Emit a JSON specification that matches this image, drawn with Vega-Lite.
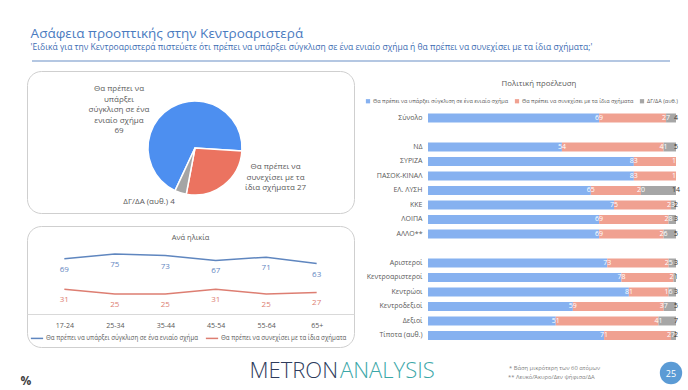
{
  "$schema": "https://vega.github.io/schema/vega-lite/v6.json",
  "background": "white",
  "padding": {"left": 20, "top": 27, "right": 0, "bottom": 0},
  "config": {"view": {"stroke": null}, "font": "Open Sans"},
  "title": {
    "text": "Ασάφεια προοπτικής στην Κεντροαριστερά",
    "subtitle": "'Ειδικά για την Κεντροαριστερά πιστεύετε ότι πρέπει να υπάρξει σύγκλιση σε ένα ενιαίο σχήμα ή θα πρέπει να συνεχίσει με τα ίδια σχήματα;'",
    "anchor": "start", "dx": 10, "font": "Open Sans", "fontSize": 13.5, "fontWeight": 400, "color": "#4a7bbf",
    "subtitleFont": "Open Sans", "subtitleFontSize": 8.5, "subtitleColor": "#3d6db3", "subtitlePadding": 2, "offset": 6
  },
  "spacing": 8,
  "resolve": {"scale": {"color": "independent", "x": "independent", "y": "independent"}},
  "vconcat": [
    {
      "width": 643, "height": 5,
      "data": {"values": [{}]},
      "mark": {"type": "rule", "color": "#b4c7e2", "strokeWidth": 2},
      "encoding": {"x": {"value": 5}, "x2": {"value": "width"}, "y": {"value": 4}}
    },
    {
      "spacing": 10,
      "resolve": {"scale": {"color": "independent"}, "legend": {"color": "independent"}},
      "hconcat": [
        {
          "spacing": 11,
          "resolve": {"scale": {"color": "independent"}},
          "vconcat": [
            {
              "width": 327, "height": 142,
              "view": {"stroke": "#cfcfcf", "cornerRadius": 14, "strokeWidth": 1},
              "data": {"values": [
                {"answer": "Θα πρέπει να υπάρξει σύγκλιση σε ένα ενιαίο σχήμα", "value": 69, "label": "Θα πρέπει να\nυπάρξει\nσύγκλιση σε ένα\nενιαίο σχήμα\n69"},
                {"answer": "Θα πρέπει να συνεχίσει με τα ίδια σχήματα", "value": 27, "label": "Θα πρέπει να\nσυνεχίσει με τα\nίδια σχήματα 27"},
                {"answer": "ΔΓ/ΔΑ (αυθ.)", "value": 4, "label": "ΔΓ/ΔΑ (αυθ.) 4"}
              ]},
              "layer": [
                {
                  "mark": {"type": "arc", "outerRadius": 47, "stroke": "white", "strokeWidth": 1.5, "xOffset": 4.5, "yOffset": 6},
                  "encoding": {
                    "theta": {"field": "value", "type": "quantitative", "stack": true, "scale": {"range": [3.58, 9.863]}},
                    "color": {"field": "answer", "type": "nominal", "legend": null,
                      "scale": {"domain": ["Θα πρέπει να υπάρξει σύγκλιση σε ένα ενιαίο σχήμα", "Θα πρέπει να συνεχίσει με τα ίδια σχήματα", "ΔΓ/ΔΑ (αυθ.)"], "range": ["#4d8ff0", "#eb7360", "#a5a5a5"]}},
                    "order": {"field": "value", "sort": "descending"}
                  }
                },
                {
                  "transform": [{"filter": "datum.value == 69"}],
                  "mark": {"type": "text", "dx": -71.5, "dy": -53, "lineBreak": "\n", "lineHeight": 10.5, "fontSize": 8, "color": "#595959"},
                  "encoding": {"text": {"field": "label"}}
                },
                {
                  "transform": [{"filter": "datum.value == 27"}],
                  "mark": {"type": "text", "dx": 85, "dy": 25, "lineBreak": "\n", "lineHeight": 10.5, "fontSize": 8, "color": "#595959"},
                  "encoding": {"text": {"field": "label"}}
                },
                {
                  "transform": [{"filter": "datum.value == 4"}],
                  "mark": {"type": "text", "dx": -41.5, "dy": 60, "fontSize": 8, "color": "#595959"},
                  "encoding": {"text": {"field": "label"}}
                }
              ]
            },
            {
              "width": 327, "height": 121,
              "view": {"stroke": "#cfcfcf", "cornerRadius": 14, "strokeWidth": 1},
              "title": {"text": "Ανά ηλικία", "fontSize": 7.5, "fontWeight": "normal", "color": "#595959", "offset": -15},
              "data": {"values": [
                {"age": "17-24", "series": "Θα πρέπει να υπάρξει σύγκλιση σε ένα ενιαίο σχήμα", "value": 69},
                {"age": "25-34", "series": "Θα πρέπει να υπάρξει σύγκλιση σε ένα ενιαίο σχήμα", "value": 75},
                {"age": "35-44", "series": "Θα πρέπει να υπάρξει σύγκλιση σε ένα ενιαίο σχήμα", "value": 73},
                {"age": "45-54", "series": "Θα πρέπει να υπάρξει σύγκλιση σε ένα ενιαίο σχήμα", "value": 67},
                {"age": "55-64", "series": "Θα πρέπει να υπάρξει σύγκλιση σε ένα ενιαίο σχήμα", "value": 71},
                {"age": "65+", "series": "Θα πρέπει να υπάρξει σύγκλιση σε ένα ενιαίο σχήμα", "value": 63},
                {"age": "17-24", "series": "Θα πρέπει να συνεχίσει με τα ίδια σχήματα", "value": 31},
                {"age": "25-34", "series": "Θα πρέπει να συνεχίσει με τα ίδια σχήματα", "value": 25},
                {"age": "35-44", "series": "Θα πρέπει να συνεχίσει με τα ίδια σχήματα", "value": 25},
                {"age": "45-54", "series": "Θα πρέπει να συνεχίσει με τα ίδια σχήματα", "value": 31},
                {"age": "55-64", "series": "Θα πρέπει να συνεχίσει με τα ίδια σχήματα", "value": 25},
                {"age": "65+", "series": "Θα πρέπει να συνεχίσει με τα ίδια σχήματα", "value": 27}
              ]},
              "encoding": {
                "x": {"field": "age", "type": "ordinal", "sort": null, "scale": {"type": "point", "padding": 0.74},
                  "axis": {"title": null, "labelFontSize": 7, "labelColor": "#595959", "ticks": false, "domainColor": "#d9d9d9", "offset": -33, "labelPadding": 7, "labelAngle": 0}},
                "y": {"field": "value", "type": "quantitative", "scale": {"domain": [-41.25, 110], "nice": false, "zero": false}, "axis": null},
                "color": {"field": "series", "type": "nominal",
                  "scale": {"domain": ["Θα πρέπει να υπάρξει σύγκλιση σε ένα ενιαίο σχήμα", "Θα πρέπει να συνεχίσει με τα ίδια σχήματα"], "range": ["#5f86bf", "#dd7e72"]},
                  "legend": {"orient": "none", "legendX": 3, "legendY": 105, "direction": "horizontal", "title": null, "symbolType": "stroke", "symbolSize": 150, "symbolStrokeWidth": 1.5, "labelFontSize": 6.2, "labelColor": "#595959", "columnPadding": 4, "labelOffset": 2, "labelLimit": 300}}
              },
              "layer": [
                {"mark": {"type": "line", "strokeWidth": 1.5}},
                {"mark": {"type": "text", "dy": 11, "fontSize": 8}, "encoding": {"text": {"field": "value"}}}
              ]
            }
          ]
        },
        {
          "width": 248, "height": 271.75,
          "title": {"text": "Πολιτική προέλευση", "fontSize": 7.8, "fontWeight": "normal", "color": "#595959", "offset": -16.5, "dx": -13},
          "data": {"values": [
            {"group": "Σύνολο", "option": "Θα πρέπει να υπάρξει σύγκλιση σε ένα ενιαίο σχήμα", "value": 69},
            {"group": "Σύνολο", "option": "Θα πρέπει να συνεχίσει με τα ίδια σχήματα", "value": 27},
            {"group": "Σύνολο", "option": "ΔΓ/ΔΑ (αυθ.)", "value": 4},
            {"group": "ΝΔ", "option": "Θα πρέπει να υπάρξει σύγκλιση σε ένα ενιαίο σχήμα", "value": 54},
            {"group": "ΝΔ", "option": "Θα πρέπει να συνεχίσει με τα ίδια σχήματα", "value": 41},
            {"group": "ΝΔ", "option": "ΔΓ/ΔΑ (αυθ.)", "value": 5},
            {"group": "ΣΥΡΙΖΑ", "option": "Θα πρέπει να υπάρξει σύγκλιση σε ένα ενιαίο σχήμα", "value": 83},
            {"group": "ΣΥΡΙΖΑ", "option": "Θα πρέπει να συνεχίσει με τα ίδια σχήματα", "value": 17},
            {"group": "ΠΑΣΟΚ-ΚΙΝΑΛ", "option": "Θα πρέπει να υπάρξει σύγκλιση σε ένα ενιαίο σχήμα", "value": 83},
            {"group": "ΠΑΣΟΚ-ΚΙΝΑΛ", "option": "Θα πρέπει να συνεχίσει με τα ίδια σχήματα", "value": 17},
            {"group": "ΕΛ. ΛΥΣΗ", "option": "Θα πρέπει να υπάρξει σύγκλιση σε ένα ενιαίο σχήμα", "value": 65},
            {"group": "ΕΛ. ΛΥΣΗ", "option": "Θα πρέπει να συνεχίσει με τα ίδια σχήματα", "value": 20},
            {"group": "ΕΛ. ΛΥΣΗ", "option": "ΔΓ/ΔΑ (αυθ.)", "value": 14},
            {"group": "ΚΚΕ", "option": "Θα πρέπει να υπάρξει σύγκλιση σε ένα ενιαίο σχήμα", "value": 75},
            {"group": "ΚΚΕ", "option": "Θα πρέπει να συνεχίσει με τα ίδια σχήματα", "value": 23},
            {"group": "ΚΚΕ", "option": "ΔΓ/ΔΑ (αυθ.)", "value": 2},
            {"group": "ΛΟΙΠΑ", "option": "Θα πρέπει να υπάρξει σύγκλιση σε ένα ενιαίο σχήμα", "value": 69},
            {"group": "ΛΟΙΠΑ", "option": "Θα πρέπει να συνεχίσει με τα ίδια σχήματα", "value": 28},
            {"group": "ΛΟΙΠΑ", "option": "ΔΓ/ΔΑ (αυθ.)", "value": 3},
            {"group": "ΑΛΛΟ**", "option": "Θα πρέπει να υπάρξει σύγκλιση σε ένα ενιαίο σχήμα", "value": 69},
            {"group": "ΑΛΛΟ**", "option": "Θα πρέπει να συνεχίσει με τα ίδια σχήματα", "value": 26},
            {"group": "ΑΛΛΟ**", "option": "ΔΓ/ΔΑ (αυθ.)", "value": 5},
            {"group": "Αριστεροί", "option": "Θα πρέπει να υπάρξει σύγκλιση σε ένα ενιαίο σχήμα", "value": 73},
            {"group": "Αριστεροί", "option": "Θα πρέπει να συνεχίσει με τα ίδια σχήματα", "value": 25},
            {"group": "Αριστεροί", "option": "ΔΓ/ΔΑ (αυθ.)", "value": 3},
            {"group": "Κεντροαριστεροί", "option": "Θα πρέπει να υπάρξει σύγκλιση σε ένα ενιαίο σχήμα", "value": 78},
            {"group": "Κεντροαριστεροί", "option": "Θα πρέπει να συνεχίσει με τα ίδια σχήματα", "value": 21},
            {"group": "Κεντροαριστεροί", "option": "ΔΓ/ΔΑ (αυθ.)", "value": 1},
            {"group": "Κεντρώοι", "option": "Θα πρέπει να υπάρξει σύγκλιση σε ένα ενιαίο σχήμα", "value": 81},
            {"group": "Κεντρώοι", "option": "Θα πρέπει να συνεχίσει με τα ίδια σχήματα", "value": 16},
            {"group": "Κεντρώοι", "option": "ΔΓ/ΔΑ (αυθ.)", "value": 3},
            {"group": "Κεντροδεξιοί", "option": "Θα πρέπει να υπάρξει σύγκλιση σε ένα ενιαίο σχήμα", "value": 59},
            {"group": "Κεντροδεξιοί", "option": "Θα πρέπει να συνεχίσει με τα ίδια σχήματα", "value": 37},
            {"group": "Κεντροδεξιοί", "option": "ΔΓ/ΔΑ (αυθ.)", "value": 5},
            {"group": "Δεξιοί", "option": "Θα πρέπει να υπάρξει σύγκλιση σε ένα ενιαίο σχήμα", "value": 51},
            {"group": "Δεξιοί", "option": "Θα πρέπει να συνεχίσει με τα ίδια σχήματα", "value": 41},
            {"group": "Δεξιοί", "option": "ΔΓ/ΔΑ (αυθ.)", "value": 7},
            {"group": "Τίποτα (αυθ.)", "option": "Θα πρέπει να υπάρξει σύγκλιση σε ένα ενιαίο σχήμα", "value": 71},
            {"group": "Τίποτα (αυθ.)", "option": "Θα πρέπει να συνεχίσει με τα ίδια σχήματα", "value": 27},
            {"group": "Τίποτα (αυθ.)", "option": "ΔΓ/ΔΑ (αυθ.)", "value": 2}
          ]},
          "encoding": {
            "y": {"field": "group", "type": "nominal", "sort": null,
              "scale": {"domain": ["   ", "    ", "Σύνολο", " ", "ΝΔ", "ΣΥΡΙΖΑ", "ΠΑΣΟΚ-ΚΙΝΑΛ", "ΕΛ. ΛΥΣΗ", "ΚΚΕ", "ΛΟΙΠΑ", "ΑΛΛΟ**", "  ", "Αριστεροί", "Κεντροαριστεροί", "Κεντρώοι", "Κεντροδεξιοί", "Δεξιοί", "Τίποτα (αυθ.)"], "paddingInner": 0.38, "paddingOuter": 0.56, "align": 0.83},
              "axis": {"title": null, "ticks": false, "domain": false, "labelFontSize": 7, "labelColor": "#595959", "labelPadding": 6, "labelLimit": 200}},
            "x": {"field": "value", "type": "quantitative", "stack": "normalize", "axis": null, "scale": {"nice": false}}
          },
          "layer": [
            {
              "mark": {"type": "bar"},
              "encoding": {
                "color": {"field": "option", "type": "nominal",
                  "scale": {"domain": ["Θα πρέπει να υπάρξει σύγκλιση σε ένα ενιαίο σχήμα", "Θα πρέπει να συνεχίσει με τα ίδια σχήματα", "ΔΓ/ΔΑ (αυθ.)"], "range": ["#86b1f0", "#f0a191", "#a6a6a6"]},
                  "legend": {"orient": "none", "legendX": -63, "legendY": 27, "direction": "horizontal", "title": null, "symbolType": "square", "symbolSize": 18, "labelFontSize": 5.5, "labelColor": "#595959", "columnPadding": 5, "labelOffset": 2, "labelLimit": 300}},
                "order": {"field": "option", "sort": "descending"}
              }
            },
            {
              "mark": {"type": "text", "fontSize": 7},
              "encoding": {
                "detail": {"field": "option"},
                "order": {"field": "option", "sort": "descending"},
                "xOffset": {"field": "value", "type": "quantitative", "scale": {"domain": [0, 100], "range": [0, -124], "zero": false, "nice": false}},
                "text": {"field": "value"},
                "color": {"condition": {"test": "datum.option === 'ΔΓ/ΔΑ (αυθ.)'", "value": "#333333"}, "value": "white"}
              }
            }
          ]
        }
      ]
    },
    {
      "width": 660, "height": 32,
      "data": {"values": [{}]},
      "layer": [
        {"mark": {"type": "text", "text": "%", "fontSize": 12, "fontWeight": "bold", "color": "#404040"},
         "encoding": {"x": {"datum": 24, "type": "quantitative", "scale": {"domain": [25, 685], "nice": false, "zero": false}, "axis": null},
                      "y": {"datum": 379, "type": "quantitative", "scale": {"domain": [354, 386], "nice": false, "zero": false, "reverse": true}, "axis": null}}},
        {"mark": {"type": "text", "text": "METRON", "align": "right", "fontSize": 22, "fontWeight": 300, "color": "#2e3b5b"},
         "encoding": {"x": {"datum": 336, "type": "quantitative"}, "y": {"datum": 369, "type": "quantitative"}}},
        {"mark": {"type": "text", "text": "ANALYSIS", "align": "left", "fontSize": 22, "fontWeight": 300, "color": "#3ba7a8"},
         "encoding": {"x": {"datum": 338, "type": "quantitative"}, "y": {"datum": 369, "type": "quantitative"}}},
        {"mark": {"type": "text", "text": "* Βάση μικρότερη των 60 ατόμων", "align": "left", "fontSize": 5.8, "color": "#7f7f7f"},
         "encoding": {"x": {"datum": 507, "type": "quantitative"}, "y": {"datum": 366, "type": "quantitative"}}},
        {"mark": {"type": "text", "text": "** Λευκό/Άκυρο/Δεν ψήφισα/ΔΑ", "align": "left", "fontSize": 5.8, "color": "#7f7f7f"},
         "encoding": {"x": {"datum": 506, "type": "quantitative"}, "y": {"datum": 375, "type": "quantitative"}}},
        {"mark": {"type": "point", "filled": true, "size": 500, "color": "#5b9bd5", "opacity": 1},
         "encoding": {"x": {"datum": 669, "type": "quantitative"}, "y": {"datum": 371, "type": "quantitative"}}},
        {"mark": {"type": "text", "text": "25", "fontSize": 9, "color": "white"},
         "encoding": {"x": {"datum": 669, "type": "quantitative"}, "y": {"datum": 372, "type": "quantitative"}}}
      ]
    }
  ]
}
